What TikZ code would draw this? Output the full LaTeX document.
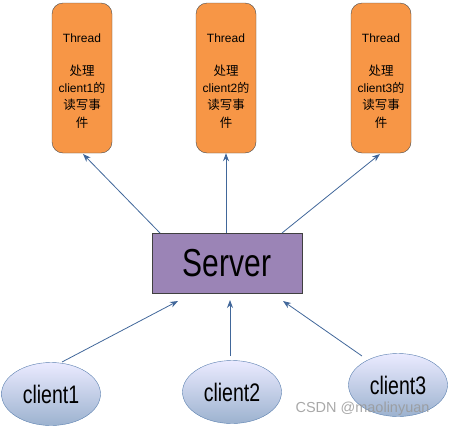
\documentclass[tikz,border=0pt]{standalone}
\usepackage{fontspec}
\setmainfont{Liberation Sans}
\newfontfamily\cjk{Noto Sans CJK SC}
\usetikzlibrary{shapes.geometric,arrows.meta}
\definecolor{thr}{HTML}{F79646}
\definecolor{srv}{HTML}{9B84B6}
\definecolor{arr}{HTML}{41679A}
\definecolor{elb}{HTML}{5A7FAF}
\tikzset{
  thread/.style={draw=black!70, fill=thr, rounded corners=11pt, minimum width=60pt, minimum height=150pt, inner sep=0pt},
  ttext/.style={align=center, font=\fontsize{12}{17.3}\selectfont, inner sep=0pt},
  server/.style={draw=black!75, fill=srv, minimum width=150pt, minimum height=60pt, inner sep=0pt},
  client/.style={ellipse, draw=elb, top color=blue!8!white, bottom color=elb!60!white, minimum width=99pt, minimum height=63pt, inner sep=0pt},
  conn/.style={draw=arr, line width=0.8pt, -{Stealth[length=8pt,width=6pt]}},
}
\newcommand{\thtext}[1]{Thread\\[15pt]{\cjk\fontsize{12.5}{17.3}\selectfont 处理}\\client#1{\cjk 的}\\{\cjk\fontsize{12.5}{17.3}\selectfont 读写事}\\{\cjk\fontsize{12.5}{17.3}\selectfont 件}}
\begin{document}
\begin{tikzpicture}[x=1pt,y=-1pt]
\useasboundingbox (0,0) rectangle (450,426);
\node[thread] (t1) at (82,78) {};
\node[thread] (t2) at (226,78) {};
\node[thread] (t3) at (381,78) {};
\node[ttext, anchor=north] (l1) at (82,34) {\thtext{1}};
\node[ttext, anchor=north] (l2) at (226,34) {\thtext{2}};
\node[ttext, anchor=north] (l3) at (381,34) {\thtext{3}};
\node[server] (s) at (227,263) {\fontsize{30}{30}\selectfont\scalebox{1}[1.3]{Server}};
\node[client] (c1) at (51,394) {\fontsize{19.5}{20}\selectfont\scalebox{1}[1.3]{client1}};
\node[client] (c2) at (232,392) {\fontsize{19.5}{20}\selectfont\scalebox{1}[1.3]{client2}};
\node[client] (c3) at (398,385) {\fontsize{19.5}{20}\selectfont\scalebox{1}[1.3]{client3}};
\coordinate (s1) at (160,233);
\coordinate (s2) at (226,233);
\coordinate (s3) at (282,233);
\coordinate (b1) at (178,301);
\coordinate (b2) at (230,300);
\coordinate (b3) at (283,301);
\coordinate (c1t) at (62,362);
\coordinate (c2t) at (230,356);
\coordinate (c3t) at (362,356);
\coordinate (e1) at (83,154);
\coordinate (e3) at (380,154);
\draw[conn] (s1) -- (e1);
\draw[conn] (s2) -- (t2.south);
\draw[conn] (s3) -- (e3);
\draw[conn] (c1t) -- (b1);
\draw[conn] (c2t) -- (b2);
\draw[conn] (c3t) -- (b3);
\node[text=gray!80, opacity=0.85, font=\fontsize{14.5}{15}\selectfont, anchor=west] (wm) at (292,409) {CSDN @maolinyuan};
\end{tikzpicture}
\end{document}
